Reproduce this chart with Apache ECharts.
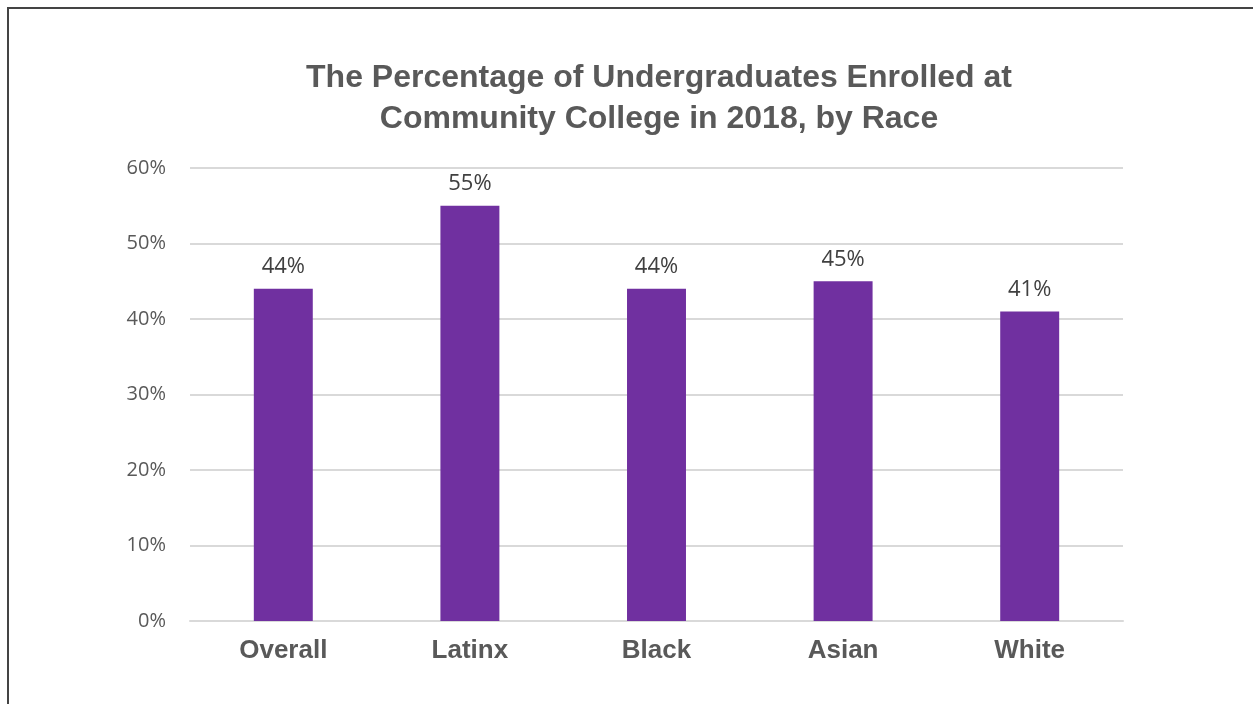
<!DOCTYPE html>
<html>
<head>
<meta charset="utf-8">
<script src="https://cdn.jsdelivr.net/npm/echarts@6/dist/echarts.min.js"></script>
<style>
  html, body { margin: 0; padding: 0; background: #fff; }
  #frame { position: absolute; left: 7px; top: 7px; width: 1246px; height: 697px;
           border-left: 2px solid #444; border-top: 2px solid #444; box-sizing: border-box; }
  #chart { position: absolute; left: 0; top: 0; width: 1253px; height: 704px; }
</style>
</head>
<body>
<div id="frame"></div>
<div id="chart"></div>
<script>
// data
const categories = ['Overall', 'Latinx', 'Black', 'Asian', 'White'];
const shares = [44, 55, 44, 45, 41];
const yTicks = [0, 10, 20, 30, 40, 50, 60];

var myChart = echarts.init(document.getElementById('chart'));
myChart.setOption({
  animation: false,
  title: {
    text: 'The Percentage of Undergraduates Enrolled at\nCommunity College in 2018, by Race',
    left: 654,
    textAlign: 'center',
    top: 53,
    textStyle: {
      fontFamily: 'Liberation Sans',
      fontWeight: 'bold',
      fontSize: 32,
      lineHeight: 41,
      color: '#595959'
    }
  },
  grid: { left: 190, right: 130, top: 168, bottom: 83 },
  xAxis: {
    type: 'category',
    data: categories,
    axisTick: { show: false },
    axisLine: { lineStyle: { color: '#d9d9d9', width: 2 } },
    axisLabel: {
      margin: 17,
      fontFamily: 'Liberation Sans',
      fontWeight: 'bold',
      fontSize: 26,
      color: '#595959'
    }
  },
  yAxis: {
    type: 'value',
    min: yTicks[0],
    max: yTicks[yTicks.length - 1],
    interval: 10,
    axisLine: { show: false },
    axisTick: { show: false },
    splitLine: { lineStyle: { color: '#d9d9d9', width: 2 } },
    axisLabel: {
      margin: 24,
      fontFamily: 'Open Sans',
      fontSize: 20,
      color: '#595959',
      formatter: '{value}%'
    }
  },
  series: [{
    type: 'bar',
    data: shares,
    barWidth: '31.6%',
    itemStyle: { color: '#7030A0' },
    label: {
      show: true,
      position: 'top',
      distance: 11,
      fontFamily: 'Open Sans',
      fontSize: 22,
      color: '#404040',
      formatter: '{c}%'
    }
  }]
});
</script>
</body>
</html>
